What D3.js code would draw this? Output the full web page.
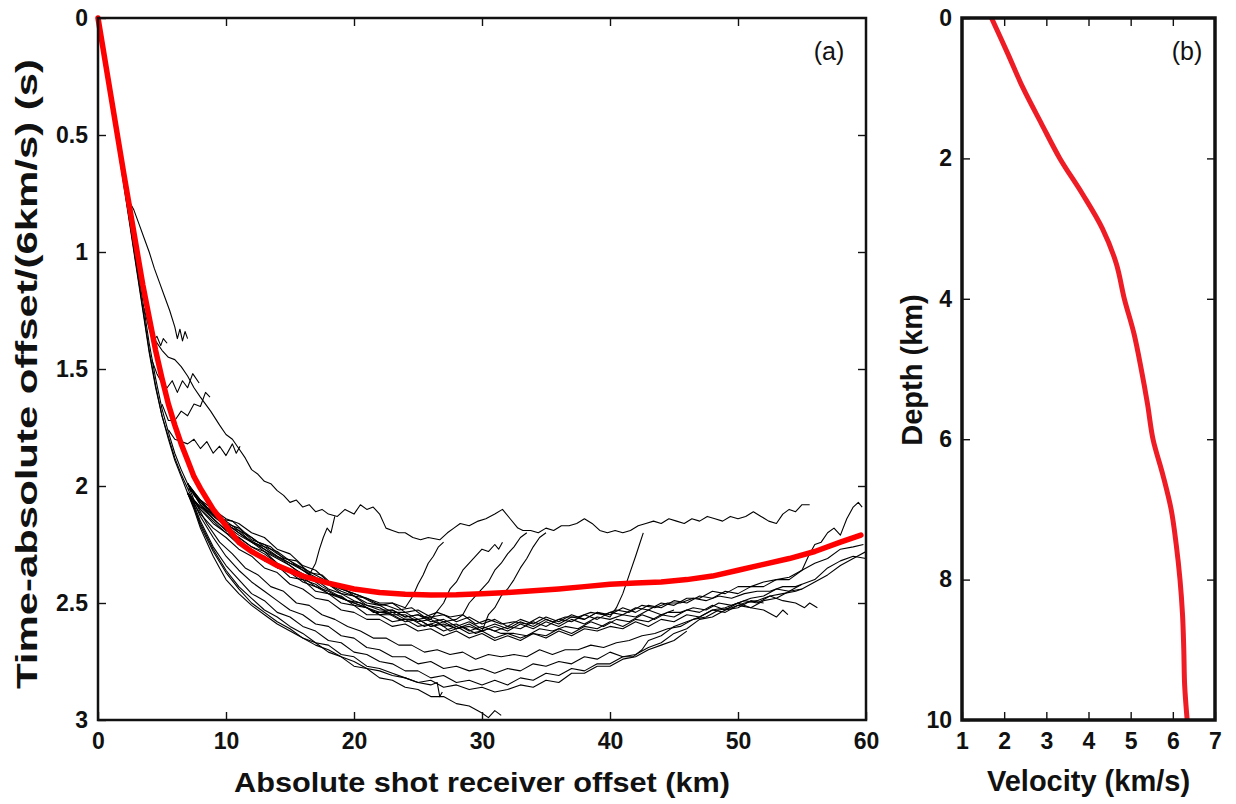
<!DOCTYPE html>
<html>
<head>
<meta charset="utf-8">
<script src="https://cdn.jsdelivr.net/npm/d3@7"></script>
<style>
  body { margin: 0; background: #fff; }
  text { font-family: "Liberation Sans", Arial, Helvetica, sans-serif; }
</style>
</head>
<body>
<svg id="chart" width="1236" height="804"></svg>
<script>
// ---- panel (a): tick values ----
var offsetTicks = [0, 10, 20, 30, 40, 50, 60];
var timeTicks = [0, 0.5, 1, 1.5, 2, 2.5, 3];

// ---- panel (a): reduced travel time picks, [offset km, time s] ----
// shallow part shared by most picks
var shallowA = [[0,0],[0.5,0.17],[1,0.34],[1.5,0.51],[2,0.69],[2.5,0.86],[3,1.04],[3.5,1.21],[4,1.39],[4.5,1.54],[5,1.67],[5.5,1.77],[6,1.86],[6.5,1.93],[7,1.99]];
var shallowB = [[0,0],[0.5,0.18],[1,0.36],[1.5,0.53],[2,0.71],[2.5,0.89],[3,1.07],[3.5,1.25],[4,1.43],[4.5,1.58],[5,1.7],[5.5,1.8],[6,1.89],[6.5,1.96],[7,2.03]];
var shallowC = [[0,0],[0.5,0.18],[1,0.35],[1.5,0.53],[2,0.7],[2.5,0.88],[3,1.06],[3.5,1.24],[4,1.42],[4.5,1.57],[5,1.7],[5.5,1.79],[6,1.88],[6.5,1.95],[7,2.01]];

// main band
var band01 = [[7,1.99],[8,2.06],[9,2.1],[10,2.14],[11,2.16],[12,2.2],[13,2.22],[14,2.27],[15,2.29],[16,2.34],[17,2.36],[18,2.41],[19,2.43],[20,2.47],[21,2.48],[22,2.51],[23,2.5],[24,2.54],[25,2.53],[26,2.56],[27,2.55],[28,2.58],[29,2.56],[30,2.59],[31,2.57],[32,2.6],[33,2.57],[34,2.59],[35,2.56],[36,2.58],[37,2.55],[38,2.57],[39,2.54],[40,2.55],[41,2.52],[42,2.54],[43,2.51],[44,2.52],[45,2.49],[46,2.5],[47,2.47],[48,2.48],[49,2.45],[50,2.46],[51,2.43],[52,2.43],[53,2.4],[54,2.4],[55,2.36],[56,2.33],[57,2.31],[58,2.27],[59,2.26],[59.8,2.25]];
var band02 = [[7,2.03],[8,2.09],[9,2.12],[10,2.17],[11,2.19],[12,2.24],[13,2.26],[14,2.3],[15,2.33],[16,2.36],[17,2.4],[18,2.42],[19,2.46],[20,2.47],[21,2.51],[22,2.52],[23,2.55],[24,2.55],[25,2.58],[26,2.57],[27,2.6],[28,2.59],[29,2.62],[30,2.6],[31,2.62],[32,2.6],[33,2.61],[34,2.58],[35,2.6],[36,2.57],[37,2.58],[38,2.55],[39,2.57],[40,2.54],[41,2.55],[42,2.52],[43,2.53],[44,2.5],[45,2.51],[46,2.48],[47,2.48],[48,2.45],[49,2.46],[50,2.43],[51,2.43],[52,2.41],[53,2.4],[54,2.39],[55,2.36],[55.5,2.3],[56,2.25],[56.5,2.24],[57,2.2],[57.5,2.18],[58,2.21],[58.5,2.14],[59,2.09],[59.4,2.07],[59.7,2.09]];
var band03 = [[7,1.99],[7.5,2.04],[8.5,2.1],[9.5,2.15],[10.5,2.18],[11.5,2.22],[12.5,2.25],[13.5,2.29],[14.5,2.32],[15.5,2.36],[16.5,2.39],[17.5,2.43],[18.5,2.46],[19.5,2.49],[20.5,2.5],[21.5,2.54],[22.5,2.54],[23.5,2.57],[24.5,2.57],[25.5,2.6],[26.5,2.58],[27.5,2.62],[28.5,2.6],[29.5,2.63],[30.5,2.61],[31.5,2.63],[32.5,2.63],[33.5,2.64],[34.5,2.61],[35.5,2.62],[36.5,2.6],[37.5,2.61],[38.5,2.58],[39.5,2.6],[40.5,2.57],[41.5,2.58],[42.5,2.55],[43.5,2.57],[44.5,2.54],[45.5,2.54],[46.5,2.52],[47.5,2.53],[48.5,2.5],[49.5,2.51],[50.5,2.49],[51.5,2.5],[52.5,2.47],[53.5,2.49],[54.5,2.5],[55.2,2.52],[55.6,2.5],[56.2,2.52]];
var band04 = [[7,2.03],[8,2.1],[9,2.16],[10,2.2],[11,2.25],[12,2.27],[13,2.32],[14,2.34],[15,2.39],[16,2.4],[17,2.45],[18,2.46],[19,2.5],[20,2.51],[21,2.55],[22,2.55],[23,2.58],[24,2.57],[25,2.6],[26,2.59],[27,2.62],[28,2.6],[29,2.63],[30,2.62],[31,2.65],[32,2.63],[33,2.65],[34,2.63],[35,2.64],[36,2.61],[37,2.63],[38,2.6],[39,2.61],[40,2.58],[41,2.6],[42,2.57],[43,2.58],[44,2.55],[45,2.56],[46,2.53],[47,2.54],[48,2.51],[49,2.53],[50,2.5],[51,2.52],[52,2.53],[53,2.56],[53.5,2.53],[53.9,2.55]];
var band05 = [[7,2.01],[7.5,2.03],[8.5,2.09],[9.5,2.14],[10.5,2.15],[11.5,2.2],[12.5,2.24],[13.5,2.26],[14.5,2.31],[15.5,2.32],[16.5,2.37],[17.5,2.38],[18.5,2.43],[19.5,2.45],[20.5,2.47],[21.5,2.5],[22.5,2.51],[23.5,2.53],[24.5,2.52],[25.5,2.56],[26.5,2.54],[27.5,2.56],[28.5,2.55],[29.5,2.59],[30.5,2.57],[31.5,2.59],[32.5,2.58],[33.5,2.59],[34.5,2.56],[35.5,2.58],[36.5,2.56],[37.5,2.56],[38.5,2.54],[39.5,2.55],[40.5,2.53],[41.5,2.54],[42.5,2.51],[43.5,2.52],[44.5,2.5],[45.5,2.5],[46.5,2.48],[47.5,2.49],[48.5,2.47],[49.5,2.48],[50.5,2.46],[51.5,2.45],[52.5,2.45],[53.5,2.43],[54.5,2.43],[55,2.42]];
var band06 = [[7,2.03],[8,2.12],[9,2.18],[10,2.22],[11,2.27],[12,2.3],[13,2.35],[14,2.37],[15,2.42],[16,2.44],[17,2.48],[18,2.49],[19,2.53],[20,2.54],[21,2.57],[22,2.57],[23,2.6],[24,2.59],[25,2.62],[26,2.61],[27,2.64],[28,2.62],[29,2.65],[30,2.63],[31,2.66],[32,2.64],[33,2.66],[34,2.63],[35,2.65],[36,2.62],[37,2.64],[38,2.61],[39,2.62],[40,2.6],[41,2.61],[42,2.58],[43,2.6],[44,2.57],[45,2.58],[46,2.55],[47,2.56],[48,2.53],[49,2.54],[50,2.51],[51,2.52],[52,2.49],[53,2.48],[54,2.45],[55,2.44],[56,2.41],[57,2.38],[58,2.34],[59,2.31],[60,2.28]];
var band07 = [[7,1.99],[8,2.08],[9,2.14],[10,2.19],[11,2.22],[12,2.26],[13,2.28],[14,2.33],[15,2.36],[16,2.39],[17,2.43],[18,2.45],[19,2.48],[20,2.5],[21,2.52],[22,2.55],[23,2.54],[24,2.57],[25,2.57],[26,2.6],[27,2.58],[28,2.61],[29,2.59],[30,2.62],[31,2.6],[32,2.62],[33,2.59],[34,2.61],[35,2.58],[36,2.6],[37,2.57],[38,2.59],[39,2.56],[40,2.57],[41,2.55],[42,2.56],[43,2.53],[44,2.55],[45,2.53]];

// picks that leave the band and climb towards the upper trace
var riser00 = [[7,1.99],[8,2.07],[9,2.12],[10,2.16],[11,2.2],[12,2.24],[13,2.27],[14,2.3],[15,2.33],[16,2.35],[16.5,2.38],[17,2.33],[17.3,2.27],[17.6,2.22],[17.9,2.18],[18.2,2.2],[18.5,2.13]];
var riser01 = [[7,1.99],[8,2.06],[9,2.12],[10,2.15],[11,2.19],[12,2.22],[13,2.26],[14,2.28],[15,2.32],[16,2.35],[17,2.38],[18,2.41],[19,2.44],[20,2.46],[21,2.48],[22,2.5],[23,2.5],[24,2.52],[24.6,2.47],[25,2.42],[25.4,2.38],[25.8,2.33],[26.2,2.3],[26.6,2.26],[27,2.24]];
var riser02 = [[7,2.03],[8,2.1],[9,2.15],[10,2.2],[11,2.23],[12,2.28],[13,2.3],[14,2.35],[15,2.37],[16,2.41],[17,2.43],[18,2.46],[19,2.48],[20,2.5],[21,2.52],[22,2.54],[23,2.53],[24,2.56],[25,2.55],[26,2.57],[27,2.5],[27.5,2.44],[28,2.41],[28.5,2.36],[29,2.33],[29.5,2.3],[30,2.27],[30.5,2.28],[31,2.25],[31.3,2.27],[31.6,2.24]];
var riser03 = [[7,1.99],[8,2.07],[9,2.11],[10,2.16],[11,2.18],[12,2.23],[13,2.25],[14,2.29],[15,2.32],[16,2.36],[17,2.39],[18,2.42],[19,2.45],[20,2.47],[21,2.5],[22,2.51],[23,2.54],[24,2.54],[25,2.57],[26,2.56],[27,2.58],[28,2.57],[28.5,2.55],[29,2.5],[29.5,2.47],[30,2.44],[30.5,2.41],[31,2.36],[31.5,2.33],[32,2.29],[32.5,2.26],[33,2.22],[33.5,2.2]];
var riser04 = [[7,2.03],[8,2.09],[9,2.14],[10,2.19],[11,2.22],[12,2.26],[13,2.29],[14,2.33],[15,2.36],[16,2.4],[17,2.42],[18,2.46],[19,2.47],[20,2.51],[21,2.52],[22,2.55],[23,2.55],[24,2.58],[25,2.57],[26,2.6],[27,2.59],[28,2.61],[29,2.6],[30,2.62],[30.5,2.55],[31,2.52],[31.5,2.47],[32,2.44],[32.5,2.4],[33,2.35],[33.5,2.31],[34,2.26],[34.5,2.22],[35,2.2]];
var riser05 = [[7,1.99],[8,2.08],[9,2.13],[10,2.17],[11,2.21],[12,2.24],[13,2.28],[14,2.31],[15,2.34],[16,2.38],[17,2.4],[18,2.44],[19,2.46],[20,2.49],[21,2.51],[22,2.53],[23,2.53],[24,2.56],[25,2.55],[26,2.58],[27,2.57],[28,2.6],[29,2.58],[30,2.61],[31,2.59],[32,2.61],[33,2.58],[34,2.6],[35,2.57],[36,2.59],[37,2.56],[38,2.57],[39,2.54],[40,2.56],[40.5,2.52],[41,2.46],[41.5,2.38],[42,2.3],[42.3,2.25],[42.6,2.2]];

// upper (early) picks
var upper01 = [[0,0],[0.5,0.17],[1,0.34],[1.5,0.51],[2,0.68],[2.5,0.85],[3,1.02],[3.5,1.18],[4,1.3],[4.5,1.38],[5,1.42],[5.5,1.45],[6,1.46],[6.5,1.49],[7,1.53],[7.5,1.58],[8,1.62],[8.8,1.68],[9.5,1.74],[10,1.78],[10.5,1.8],[11,1.84],[11.5,1.88],[12,1.93],[12.5,1.95],[13,1.98],[13.5,1.99],[14,2.02],[14.5,2.04],[15,2.07],[15.5,2.06],[16,2.09],[16.5,2.08],[17,2.11],[17.5,2.1],[18,2.12],[18.7,2.13],[19.3,2.1],[20,2.12],[20.5,2.08],[21,2.1],[21.5,2.09],[22,2.12],[22.5,2.18],[23,2.19],[23.5,2.2],[24,2.2],[24.6,2.22],[25.2,2.23],[25.8,2.22],[26.7,2.23],[27.3,2.2],[27.8,2.18],[28.3,2.16],[29,2.17],[29.7,2.15],[30.3,2.14],[31,2.12],[31.6,2.1],[32.2,2.14],[32.8,2.18],[33.2,2.19],[33.8,2.19],[34.4,2.2],[35,2.18],[35.6,2.19],[36.2,2.17],[36.8,2.17],[37.4,2.16],[38,2.14],[38.6,2.16],[39.2,2.19],[39.8,2.2],[40.4,2.19],[41,2.2],[41.6,2.19],[42.2,2.17],[42.8,2.16],[43.4,2.15],[44,2.16],[44.6,2.14],[45.2,2.15],[45.8,2.16],[46.4,2.14],[47,2.15],[47.6,2.13],[48.2,2.14],[48.8,2.15],[49.4,2.13],[50,2.14],[50.6,2.13],[51.2,2.11],[51.8,2.13],[52.4,2.15],[53,2.16],[53.5,2.12],[54,2.1],[54.5,2.11],[55,2.08],[55.6,2.08]];
var short01 = [[2,0.68],[2.3,0.76],[2.5,0.79],[2.8,0.82],[3.2,0.88],[3.6,0.94],[4,1.0],[4.4,1.07],[4.8,1.13],[5.2,1.19],[5.6,1.25],[6,1.32],[6.2,1.37],[6.4,1.33],[6.6,1.38],[6.8,1.34],[7,1.37]];
var short02 = [[3.6,1.24],[4,1.33],[4.3,1.38],[4.6,1.36],[4.9,1.4],[5.1,1.37],[5.4,1.39]];
var short03 = [[4.2,1.46],[4.6,1.52],[5,1.56],[5.4,1.58],[5.8,1.55],[6.2,1.6],[6.6,1.55],[7,1.58],[7.4,1.52],[7.9,1.56]];
var short04 = [[5,1.65],[5.5,1.72],[6,1.72],[6.5,1.68],[7,1.7],[7.5,1.65],[8,1.66],[8.4,1.6],[8.75,1.62]];
var short05 = [[5.5,1.76],[6,1.8],[7,1.82],[7.5,1.8],[8,1.84],[8.5,1.81],[9,1.86],[9.5,1.83],[10,1.87],[10.5,1.82],[10.8,1.86],[11.1,1.83]];

// lower group
var lower01 = [[7,2.03],[7.5,2.1],[8,2.18],[8.5,2.24],[9,2.3],[9.5,2.35],[10,2.4],[10.5,2.43],[11,2.46],[12,2.51],[13,2.55],[14,2.59],[15,2.62],[16,2.65],[17,2.67],[18,2.71],[19,2.73],[20,2.77],[21,2.78],[22,2.82],[23,2.83],[24,2.86],[25,2.87],[26,2.9],[27,2.9],[28,2.93],[29,2.94],[30,2.97],[30.5,2.99],[31,2.96],[31.5,2.98]];
var lower02 = [[7,2.03],[7.5,2.08],[8,2.15],[9,2.26],[10,2.34],[11,2.4],[12,2.46],[13,2.49],[14,2.54],[15,2.56],[16,2.6],[17,2.62],[18,2.66],[19,2.67],[20,2.71],[21,2.72],[22,2.75],[23,2.76],[24,2.79],[25,2.79],[26,2.82],[27,2.81],[28,2.84],[29,2.83],[30,2.85],[31,2.83],[32,2.85],[33,2.82],[34,2.83],[35,2.8],[36,2.81],[37,2.78],[38,2.79],[39,2.76],[40,2.76],[41,2.73],[42,2.72],[43,2.69],[44,2.67],[45,2.63],[46,2.61],[47,2.57],[48,2.56],[49,2.53],[50,2.52],[51,2.49],[52,2.5]];
var lower03 = [[7,2.01],[7.5,2.07],[8,2.13],[9,2.22],[10,2.3],[11,2.36],[12,2.41],[13,2.45],[14,2.49],[15,2.53],[16,2.55],[17,2.59],[18,2.6],[19,2.64],[20,2.65],[21,2.69],[22,2.7],[23,2.73],[24,2.73],[25,2.76],[26,2.75],[27,2.78],[28,2.77],[29,2.79],[30,2.78],[31,2.8],[32,2.78],[33,2.79],[34,2.76],[35,2.77],[36,2.75],[37,2.76],[38,2.73],[39,2.74],[40,2.71],[41,2.73],[41.8,2.73],[42.5,2.7],[43,2.66],[44,2.64],[45,2.6],[46,2.58],[47,2.56],[48,2.53],[49,2.52],[50,2.5],[51,2.48],[52,2.47],[53,2.44],[54,2.45],[55,2.42],[56,2.4],[57,2.35],[58,2.32],[59,2.3],[60,2.31]];
var lower04 = [[7,2.03],[7.5,2.09],[8,2.16],[9,2.27],[10,2.36],[11,2.43],[12,2.48],[13,2.53],[14,2.56],[15,2.6],[16,2.63],[17,2.67],[18,2.68],[19,2.72],[20,2.73],[21,2.77],[22,2.78],[23,2.8],[24,2.82],[25,2.84],[26,2.85],[26.5,2.84],[26.7,2.9],[26.9,2.88]];
var lower05 = [[7,1.99],[7.5,2.06],[8.5,2.16],[9.5,2.24],[10.5,2.29],[11.5,2.35],[12.5,2.38],[13.5,2.43],[14.5,2.45],[15.5,2.5],[16.5,2.51],[17.5,2.55],[18.5,2.57],[19.5,2.6],[20.5,2.62],[21.5,2.65],[22.5,2.65],[23.5,2.68],[24.5,2.68],[25.5,2.71],[26.5,2.7],[27.5,2.72],[28.5,2.71],[29.5,2.74],[30.5,2.72],[31.5,2.73],[32.5,2.72],[33.5,2.73],[34.5,2.7],[35.5,2.72],[36.5,2.7],[37.5,2.7],[38.5,2.68],[39.5,2.69],[40.5,2.67],[41.5,2.66],[42.5,2.64],[43.5,2.63],[44.5,2.61],[45.5,2.6],[46.5,2.57],[47.5,2.56],[48.5,2.53],[49.5,2.52],[50.5,2.5],[51.5,2.49],[52.5,2.47],[53.5,2.46],[54.5,2.45],[55,2.44]];
var lower06 = [[7,2.03],[7.5,2.09],[8,2.17],[9,2.28],[10,2.37],[11,2.44],[12,2.5],[13,2.54],[14,2.58],[15,2.61],[16,2.65],[17,2.68],[18,2.7],[19,2.73],[20,2.75],[21,2.78],[22,2.79],[23,2.81],[24,2.82],[25,2.84],[26,2.83],[27,2.86],[28,2.85],[29,2.87],[30,2.86],[31,2.88],[32,2.87],[33,2.85],[34,2.86],[35,2.83],[36,2.84],[37,2.8],[38,2.8],[39,2.77],[40,2.77],[41,2.74],[42,2.73],[43,2.7],[44,2.68],[45,2.66],[46,2.62]];

// red reference curve
var refOffset = [0,1,2,3,3.5,4,4.5,5,5.5,6,6.5,7,7.5,8,9,10,11,12,13,14,16,18,20,22,24,26,28,30,32,34,36,38,40,42,44,46,48,50,52,54,56,58,59.6];
var refTime   = [0,0.33,0.66,0.98,1.14,1.28,1.42,1.54,1.65,1.74,1.82,1.89,1.96,2.01,2.1,2.17,2.24,2.28,2.31,2.34,2.385,2.415,2.44,2.455,2.463,2.466,2.465,2.46,2.455,2.448,2.44,2.43,2.42,2.415,2.41,2.4,2.385,2.36,2.335,2.31,2.28,2.24,2.21];

// ---- panel (b): velocity model ----
var velTicks = [1, 2, 3, 4, 5, 6, 7];
var depthTicks = [0, 2, 4, 6, 8, 10];
var depthKm     = [0,0.5,1,1.5,2,2.5,3,3.5,4,4.5,5,5.5,6,6.5,7,7.5,8,8.5,9,9.5,10];
var velocityKms = [1.7,2.08,2.45,2.88,3.32,3.85,4.33,4.66,4.85,5.08,5.25,5.4,5.53,5.76,5.96,6.08,6.17,6.23,6.26,6.28,6.34];

// ---------------------------------------------------------------
var svg = d3.select("#chart");

var pa = {left: 98, top: 18, width: 768, height: 702};
var pb = {left: 962, top: 18, width: 253, height: 702};

var x = d3.scaleLinear().domain([0, 60]).range([0, pa.width]);
var y = d3.scaleLinear().domain([0, 3]).range([0, pa.height]);
var xv = d3.scaleLinear().domain([1, 7]).range([0, pb.width]);
var yd = d3.scaleLinear().domain([0, 10]).range([0, pb.height]);

function drawAxes(g, xs, ys, w, h, xt, yt, frame) {
  var fmt = d3.format("~g");
  var tickStyle = function(sel) {
    sel.select(".domain").remove();
    sel.selectAll(".tick line").attr("stroke", "#111").attr("stroke-width", 1.4);
    sel.selectAll("text")
      .style("font-family", '"Liberation Sans", Arial, sans-serif')
      .style("font-size", "23px")
      .style("font-weight", "bold")
      .style("fill", "#111");
  };
  g.append("g").attr("transform", "translate(0," + h + ")")
    .call(d3.axisBottom(xs).tickValues(xt).tickSize(-8).tickPadding(13).tickFormat(fmt))
    .call(tickStyle);
  g.append("g")
    .call(d3.axisTop(xs).tickValues(xt.slice(1, -1)).tickSize(-8).tickFormat(""))
    .call(tickStyle);
  g.append("g")
    .call(d3.axisLeft(ys).tickValues(yt).tickSize(-8).tickPadding(10).tickFormat(fmt))
    .call(tickStyle);
  g.append("g").attr("transform", "translate(" + w + ",0)")
    .call(d3.axisRight(ys).tickValues(yt.slice(1, -1)).tickSize(-8).tickFormat(""))
    .call(tickStyle);
  g.append("rect")
    .attr("width", w).attr("height", h)
    .attr("fill", "none").attr("stroke", "#111").attr("stroke-width", frame);
}

// ---- panel (a) ----
var ga = svg.append("g").attr("transform", "translate(" + pa.left + "," + pa.top + ")");
ga.append("clipPath").attr("id", "clipA")
  .append("rect").attr("width", pa.width).attr("height", pa.height);

var picks = [shallowA, shallowB, shallowC,
  band01, band02, band03, band04, band05, band06, band07,
  riser00, riser01, riser02, riser03, riser04, riser05,
  upper01, short01, short02, short03, short04, short05,
  lower01, lower02, lower03, lower04, lower05, lower06];

var pickLine = d3.line()
  .x(function(d) { return x(d[0]); })
  .y(function(d) { return y(d[1]); });

ga.append("g").attr("clip-path", "url(#clipA)")
  .selectAll(".pick")
  .data(picks)
  .enter().append("path")
    .attr("class", "pick")
    .attr("d", pickLine)
    .attr("fill", "none")
    .attr("stroke", "#000")
    .attr("stroke-width", 1.1)
    .attr("stroke-linejoin", "round");

var refData = refOffset.map(function(o, i) { return [o, refTime[i]]; });
ga.append("path")
  .datum(refData)
  .attr("d", pickLine)
  .attr("fill", "none")
  .attr("stroke", "#ff0000")
  .attr("stroke-width", 5.5)
  .attr("stroke-linejoin", "round")
  .attr("stroke-linecap", "round");

drawAxes(ga, x, y, pa.width, pa.height, offsetTicks, timeTicks, 2.5);

ga.append("text")
  .attr("x", 731).attr("y", 42)
  .attr("text-anchor", "middle")
  .style("font-size", "25px")
  .style("fill", "#111")
  .text("(a)");

svg.append("text")
  .attr("x", pa.left + pa.width / 2).attr("y", 792)
  .attr("text-anchor", "middle")
  .attr("textLength", 496).attr("lengthAdjust", "spacingAndGlyphs")
  .style("font-size", "28px").style("font-weight", "bold").style("fill", "#111")
  .text("Absolute shot receiver offset (km)");

svg.append("text")
  .attr("transform", "translate(37,374) rotate(-90)")
  .attr("text-anchor", "middle")
  .attr("textLength", 630).attr("lengthAdjust", "spacingAndGlyphs")
  .style("font-size", "30px").style("font-weight", "bold").style("fill", "#111")
  .text("Time-absolute offset/(6km/s) (s)");

// ---- panel (b) ----
var gb = svg.append("g").attr("transform", "translate(" + pb.left + "," + pb.top + ")");

var velLine = d3.line()
  .curve(d3.curveCatmullRom)
  .x(function(d) { return xv(d[1]); })
  .y(function(d) { return yd(d[0]); });

gb.append("path")
  .datum(depthKm.map(function(dk, i) { return [dk, velocityKms[i]]; }))
  .attr("d", velLine)
  .attr("fill", "none")
  .attr("stroke", "#ee1c25")
  .attr("stroke-width", 5)
  .attr("stroke-linejoin", "round");

drawAxes(gb, xv, yd, pb.width, pb.height, velTicks, depthTicks, 3.5);

gb.append("text")
  .attr("x", 225).attr("y", 42)
  .attr("text-anchor", "middle")
  .style("font-size", "25px")
  .style("fill", "#111")
  .text("(b)");

svg.append("text")
  .attr("x", pb.left + pb.width / 2).attr("y", 791)
  .attr("text-anchor", "middle")
  .style("font-size", "29px").style("font-weight", "bold").style("fill", "#111")
  .text("Velocity (km/s)");

svg.append("text")
  .attr("transform", "translate(922,370) rotate(-90)")
  .attr("text-anchor", "middle")
  .style("font-size", "29px").style("font-weight", "bold").style("fill", "#111")
  .text("Depth (km)");
</script>
</body>
</html>
